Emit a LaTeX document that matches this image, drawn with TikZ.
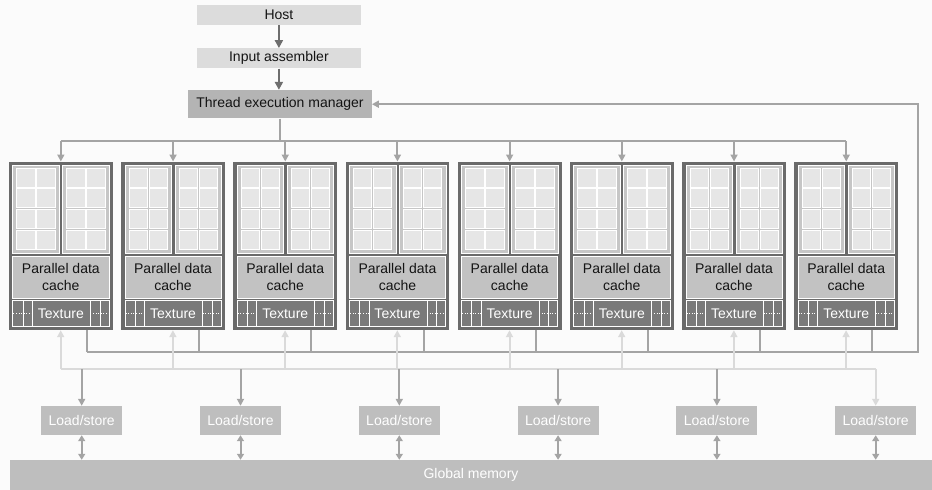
\documentclass[tikz,border=0pt]{standalone}
\usepackage{fontspec}
\setmainfont{Liberation Sans}
\usetikzlibrary{arrows.meta}
\definecolor{bgcol}{HTML}{FBFBFB}
\definecolor{hostgray}{HTML}{DCDCDC}
\definecolor{temgray}{HTML}{B4B4B4}
\definecolor{smdark}{HTML}{6A6A6A}
\definecolor{panelgray}{HTML}{C6C6C6}
\definecolor{cellgray}{HTML}{E6E6E6}
\definecolor{cachegray}{HTML}{C2C2C2}
\definecolor{texgray}{HTML}{7A7A7A}
\definecolor{memgray}{HTML}{BEBEBE}
\definecolor{arrowdark}{HTML}{6E6E6E}
\definecolor{busgray}{HTML}{A4A4A4}
\definecolor{buslight}{HTML}{DADADA}

\begin{document}
\begin{tikzpicture}[x=1pt, y=-1pt, font=\fontsize{14}{16.5}\selectfont,
	topbox/.style={fill=hostgray, minimum width=164pt, minimum height=20pt, inner sep=0pt, text=black!92},
	smbox/.style={fill=smdark, minimum width=103.7pt, minimum height=168.3pt, inner sep=0pt},
	cachebox/.style={fill=cachegray, draw=white, line width=0.8pt, minimum width=96.3pt, minimum height=42.3pt, inner sep=0pt, align=center, text=black!92},
	texbox/.style={fill=texgray, draw=white, line width=0.8pt, minimum width=96.3pt, minimum height=26pt, inner sep=0pt, text=white},
	lsbox/.style={fill=memgray, minimum width=81pt, minimum height=29pt, inner sep=0pt, text=white},
	darrow/.style={draw=arrowdark, line width=2pt, -{Triangle[width=8pt,length=8pt]}},
	busline/.style={draw=busgray, line width=2pt},
	lightline/.style={draw=buslight, line width=2pt}]
	\fill[bgcol] (0,0) rectangle (932,490);
	\useasboundingbox (0,0) rectangle (932,490);
	% host side
	\node[topbox] (host) at (278.9,15) {Host};
	\node[topbox] (ia) at (278.9,58.3) {Input assembler};
	\node[topbox, fill=temgray, minimum width=183.4pt, minimum height=28.3pt] (tem) at (280,104.2) {Thread execution manager};
	\draw[darrow] (host) -- (ia);
	\draw[darrow] (ia) -- (tem.north -| ia);
	% streaming multiprocessors
	\foreach \i [evaluate=\i as \L using 9+112.2*\i] in {0,...,7}{
		\node[smbox] (sm\i) at (\L+51.85,245.85) {};
		\foreach \p in {0,1}{
			\draw[fill=panelgray, draw=white, line width=0.8pt] (\L+3.7+50*\p,165) rectangle +(46.6,88.3);
			\foreach \c in {0,1}
				\foreach \r in {0,...,3}
					\draw[fill=cellgray, draw=white, line width=0.6pt] (\L+7.7+50*\p+20*\c,168+20.7*\r) rectangle +(18.3,19);
		}
		\node[cachebox] (pdc\i) at (\L+51.85,277.3) {Parallel data\\[0.5pt]cache};
		\node[texbox] (tex\i) at (\L+51.85,313.7) {Texture};
		\foreach \v in {14,23.3,81.3,91}
			\draw[white, line width=0.8pt] (tex\i.north -| {\L+\v},0) -- (tex\i.south -| {\L+\v},0);
		\draw[white, line width=0.6pt, dotted] (\L+4.3,313.7) -- (\L+23.3,313.7);
		\draw[white, line width=0.6pt, dotted] (\L+81.3,313.7) -- (\L+100,313.7);
		\coordinate (dn\i) at (\L+51.85,141);
		\coordinate (out\i) at (\L+78,352);
		\coordinate (in\i) at (\L+51.7,369);
	}
	% load/store units and memory
	\foreach \j in {0,...,5}
		\node[lsbox] (ls\j) at (81.7+158.8*\j,420.5) {Load/store};
	\node[fill=memgray, minimum width=922pt, minimum height=30pt, inner sep=0pt, text=white] (gm) at (471,475) {Global memory};
	% distribution bus
	\draw[busline] (tem.south) -- (tem.south |- dn0);
	\draw[busline] (dn0) -- (dn7);
	\foreach \i in {0,...,7}
		\draw[busline, -{Triangle[width=7pt,length=7pt]}] (dn\i) -- (dn\i |- sm\i.north);
	% return bus
	\coordinate (ret) at (918,352);
	\foreach \i in {0,...,7}
		\draw[busline] (sm\i.south -| out\i) -- (out\i);
	\draw[busline, -{Triangle[width=7pt,length=7pt]}] (out0) -- (ret) |- (tem.east);
	% load/store bus
	\draw[lightline] (in0) -- (ls5.north |- in0);
	\foreach \i in {0,...,7}
		\draw[lightline, -{Triangle[width=7pt,length=7pt]}] (in\i) -- (in\i |- sm\i.south);
	\foreach \j in {0,...,4}
		\draw[busline, -{Triangle[width=7pt,length=7pt]}] (ls\j.north |- in0) -- (ls\j.north);
	\draw[lightline, -{Triangle[width=7pt,length=7pt]}] (ls5.north |- in0) -- (ls5.north);
	\foreach \j in {0,...,5}
		\draw[busline, {Triangle[width=7pt,length=6pt]}-{Triangle[width=7pt,length=6pt]}] (ls\j.south) -- (ls\j.south |- gm.north);
\end{tikzpicture}
\end{document}
